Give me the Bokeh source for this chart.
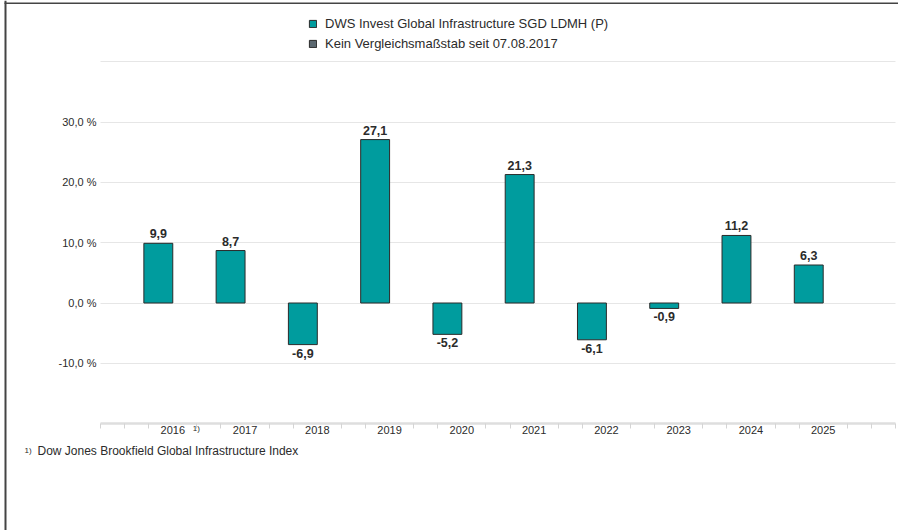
from bokeh.plotting import figure
from bokeh.models import (BoxAnnotation, ColumnDataSource, FixedTicker, Label, LabelSet,
                          Legend, LegendItem, Range1d)
from bokeh.core.properties import value
from bokeh.transform import dodge
from bokeh.embed import file_html
from bokeh.resources import INLINE

# ---------------- data ----------------
years = ["2016", "2017", "2018", "2019", "2020", "2021", "2022", "2023", "2024", "2025"]
fund_values = [9.9, 8.7, -6.9, 27.1, -5.2, 21.3, -6.1, -0.9, 11.2, 6.3]
bench_values = [float("nan")]          # no benchmark data
y_tick_values = [-10, 0, 10, 20, 30]
grid_values = [-10, 0, 10, 20, 30, 40]
y_axis_min = -20
fund_name = "DWS Invest Global Infrastructure SGD LDMH (P)"
bench_name = "Kein Vergleichsmaßstab seit 07.08.2017"
footnote_mark = "1)"
footnote_text = "Dow Jones Brookfield Global Infrastructure Index"

# ---------------- styles / layout ----------------
FONT = "Liberation Sans"
TEAL = "#009c9e"
BENCH = "#5b6870"
EDGE = "#2a2a2a"
TXT = "#2b2b2b"
GRID = "#e6e6e6"

W, H = 898, 530
PX_X = 72.27          # pixels per category
PX_Y = 6.03           # pixels per percentage point
AXIS_LEFT = 100       # canvas x of the plot area's left edge (category -1)
ZERO_Y = 302.5        # canvas y of the 0 % line

n = len(years)
x_start = -1 - AXIS_LEFT / PX_X
x_end = x_start + W / PX_X
y_end = ZERO_Y / PX_Y
y_start = y_end - H / PX_Y

def de(v):
    return f"{v:.1f}".replace(".", ",")

pos = list(range(n))
src = ColumnDataSource(dict(x=pos, top=fund_values))
bench_src = ColumnDataSource(dict(x=[0], top=bench_values))
pos_src = ColumnDataSource(dict(x=[x for x, v in zip(pos, fund_values) if v >= 0],
                                y=[v for v in fund_values if v >= 0],
                                label=[de(v) for v in fund_values if v >= 0]))
neg_src = ColumnDataSource(dict(x=[x for x, v in zip(pos, fund_values) if v < 0],
                                y=[v for v in fund_values if v < 0],
                                label=[de(v) for v in fund_values if v < 0]))

p = figure(width=W, height=H, output_backend="svg", toolbar_location=None, title=None,
           x_range=Range1d(x_start, x_end), y_range=Range1d(y_start, y_end),
           min_border=0, min_border_left=0, min_border_right=0,
           min_border_top=0, min_border_bottom=0)
p.outline_line_color = None
p.background_fill_color = "white"
p.border_fill_color = "white"

# grid lines limited to the plot area
p.xgrid.grid_line_color = None
p.ygrid.ticker = FixedTicker(ticks=grid_values)
p.ygrid.grid_line_color = GRID
p.ygrid.grid_line_width = 1
if "cross_bounds" in p.ygrid[0].properties():
    p.ygrid.cross_bounds = (-1, n)
else:
    p.ygrid.grid_line_color = None
    p.segment(x0=[-1] * len(grid_values), x1=[n] * len(grid_values),
              y0=grid_values, y1=grid_values, line_color=GRID, line_width=1)

r_fund = p.vbar(x=dodge("x", -0.2), top="top", width=0.4, source=src,
                fill_color=TEAL, line_color=EDGE, line_width=1)
r_bench = p.vbar(x=dodge("x", 0.2), top="top", width=0.4, source=bench_src,
                 fill_color=BENCH, line_color=EDGE, line_width=1)

# value labels
for s, base, off in ((pos_src, "bottom", 5), (neg_src, "top", -4)):
    p.add_layout(LabelSet(x=dodge("x", -0.2), y="y", text="label", source=s,
                          text_align="center", text_baseline=base, y_offset=off,
                          text_font=value(FONT), text_font_size="12.5px",
                          text_font_style="bold", text_color=TXT))

# y axis (drawn at the left edge of the plot area)
p.yaxis.fixed_location = -1
p.yaxis.bounds = (min(y_tick_values), max(y_tick_values))
p.yaxis.ticker = FixedTicker(ticks=y_tick_values)
p.yaxis.major_label_overrides = {v: de(v) + " %" for v in y_tick_values}
p.yaxis.axis_line_color = None
p.yaxis.major_tick_line_color = None
p.yaxis.minor_tick_line_color = None
p.yaxis.major_tick_out = 0
p.yaxis.major_tick_in = 0
p.yaxis.major_label_standoff = 4
p.yaxis.major_label_text_font = FONT
p.yaxis.major_label_text_font_size = "11px"
p.yaxis.major_label_text_color = TXT

# x axis (drawn at the bottom of the plot area)
minor = [-1.0, float(n)]
for i in range(-1, n + 1):
    for d in (-1 / 3, 1 / 3):
        t = i + d
        if -1 < t < n:
            minor.append(t)
p.xaxis.fixed_location = y_axis_min
p.xaxis.bounds = (-1, n)
p.xaxis.ticker = FixedTicker(ticks=pos, minor_ticks=sorted(minor))
p.xaxis.major_label_overrides = {i: y for i, y in zip(pos, years)}
p.xaxis.axis_line_color = "#dedede"
p.xaxis.axis_line_width = 2.5
p.xaxis.major_tick_line_color = None
p.xaxis.major_tick_out = 0
p.xaxis.major_tick_in = 0
p.xaxis.minor_tick_line_color = "#d4d4d4"
p.xaxis.minor_tick_out = 5
p.xaxis.minor_tick_in = 0
p.xaxis.major_label_standoff = -3
p.xaxis.major_label_text_font = FONT
p.xaxis.major_label_text_font_size = "11px"
p.xaxis.major_label_text_color = TXT

# superscript on first year
p.add_layout(Label(x=0, y=y_axis_min, x_offset=20, y_offset=-5,
                   text=footnote_mark, text_font=FONT, text_font_size="8px",
                   text_baseline="middle", text_align="left", text_color=TXT))

# footnote (screen units from the bottom-left of the canvas)
FOOT_Y = H - 450
p.add_layout(Label(x=24, y=FOOT_Y, x_units="screen", y_units="screen", text=footnote_mark,
                   text_font=FONT, text_font_size="8px", text_baseline="middle",
                   text_color=TXT))
p.add_layout(Label(x=37, y=FOOT_Y, x_units="screen", y_units="screen", text=footnote_text,
                   text_font=FONT, text_font_size="12px", text_baseline="middle",
                   text_color=TXT))

# frame lines on the left and top of the page
p.add_layout(BoxAnnotation(left=x_start + 4 / PX_X, right=x_start + 6 / PX_X,
                           top=y_end, bottom=y_start,
                           fill_color="#444444", fill_alpha=1, line_color=None))
p.add_layout(BoxAnnotation(left=x_start + 4 / PX_X, right=x_end,
                           top=y_end - 2 / PX_Y, bottom=y_end - 3.5 / PX_Y,
                           fill_color="#444444", fill_alpha=1, line_color=None))

# legend
legend = Legend(items=[LegendItem(label=fund_name, renderers=[r_fund]),
                       LegendItem(label=bench_name, renderers=[r_bench])],
                location=(308, H - 51.5), orientation="vertical",
                glyph_width=9, glyph_height=9, label_standoff=8, label_height=17,
                spacing=3, padding=0, margin=0, border_line_color=None,
                background_fill_alpha=0, label_text_font=FONT,
                label_text_font_size="13px", label_text_color=TXT)
p.add_layout(legend)

open("out.html", "w").write(file_html(p, INLINE))
